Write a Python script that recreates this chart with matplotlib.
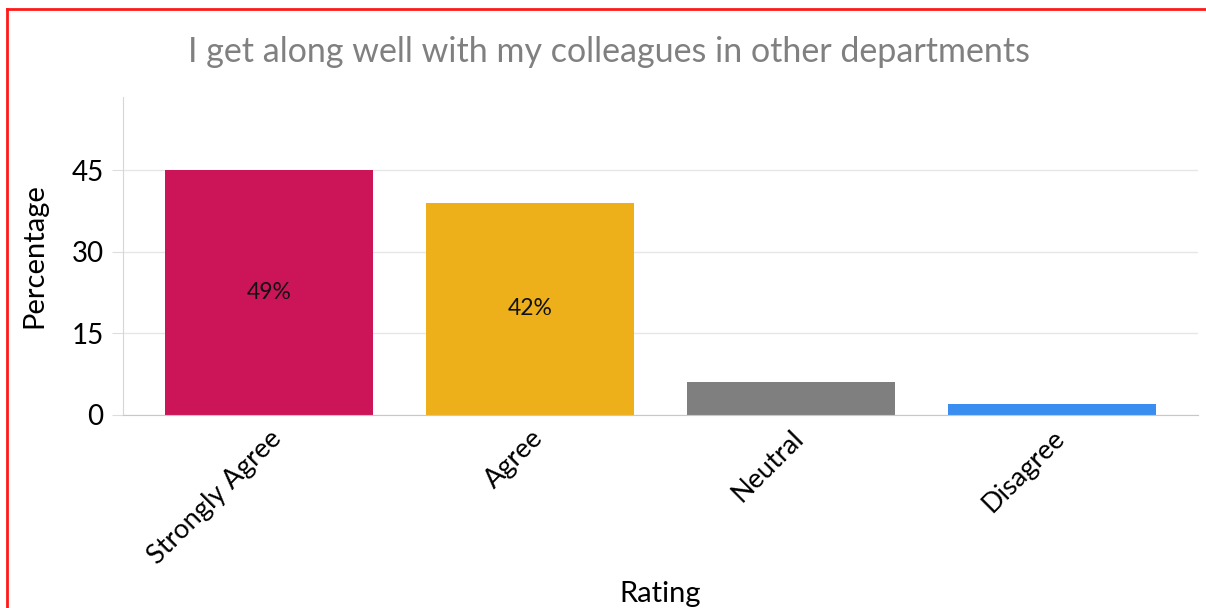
import matplotlib
matplotlib.use("Agg")
import matplotlib.pyplot as plt
from matplotlib.lines import Line2D

plt.rcParams['font.family'] = ['Lato', 'DejaVu Sans']

ratings = ['Strongly Agree', 'Agree', 'Neutral', 'Disagree']
percentages = [45, 39, 6, 2]
bar_colors = ['#CC1459', '#EEB01A', '#7F7F7F', '#3A8EF0']
y_ticks = [0, 15, 30, 45]

fig = plt.figure(figsize=(12.06, 6.08), dpi=100)
ax = fig.add_axes([123 / 1206, 1 - 414.5 / 608, (1198 - 123) / 1206, (414.5 - 97) / 608])

x = range(len(ratings))
bars = ax.bar(x, percentages, width=0.8, color=bar_colors, zorder=2)

# share of the total, only written inside the big bars
total = sum(percentages)
for bar, val in zip(bars, percentages):
    share = val / total * 100
    if share > 20:
        ax.text(bar.get_x() + bar.get_width() / 2, val / 2, f'{share:.0f}%',
                ha='center', va='center', fontsize=16.5, color='#111111')

ax.set_xlim(-0.56, 3.56)
ax.set_ylim(0, 58.5)
ax.set_yticks(y_ticks)
ax.set_xticks(list(x))
ax.set_xticklabels(ratings, rotation=45, ha='right', rotation_mode='anchor', fontsize=19.5)
ax.tick_params(axis='y', labelsize=20, length=8, color='#dddddd', pad=6)
ax.tick_params(axis='x', length=0, pad=8)
ax.grid(axis='y', color='#e6e6e6', linewidth=1, zorder=0)

for side in ['top', 'right']:
    ax.spines[side].set_visible(False)
ax.spines['left'].set_color('#d6d6d6')
ax.spines['bottom'].set_color('#c8c8c8')

ax.set_ylabel('Percentage', fontsize=21, labelpad=17)
ax.set_xlabel('Rating', fontsize=21, labelpad=8.5)
fig.text(0.505, 1 - 52 / 608, 'I get along well with my colleagues in other departments',
         ha='center', va='center', fontsize=24.5, color='#808080')

# red frame around the figure
fig.add_artist(Line2D([7 / 1206, 1], [1 - 9 / 608, 1 - 9 / 608], color='#ff1a1a', linewidth=2))
fig.add_artist(Line2D([7 / 1206, 7 / 1206], [0, 1 - 9 / 608], color='#ff1a1a', linewidth=2))

fig.savefig('out.png', dpi=100)
